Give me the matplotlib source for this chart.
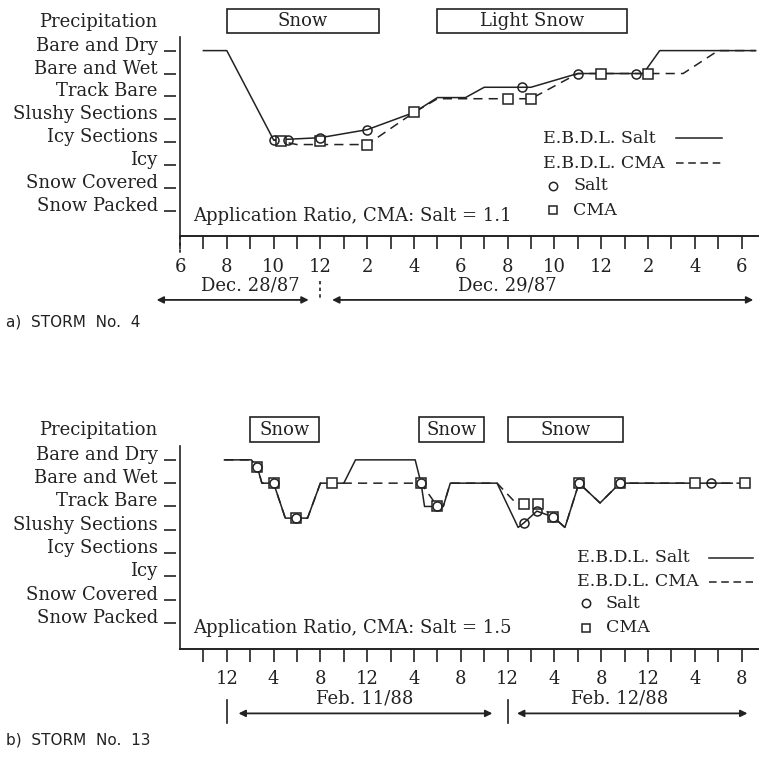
import matplotlib.pyplot as plt
from matplotlib.patches import Rectangle

plt.rcParams['font.family'] = ['DejaVu Serif']

ink = '#222222'

# road condition levels, bottom to top
levels = ["Snow Packed", "Snow Covered", "Icy", "Icy Sections",
          "Slushy Sections", "Track Bare", "Bare and Wet", "Bare and Dry"]

# ---- Storm No. 4 (hours from Dec. 28/87 00:00) ----
salt4_t = [19, 20, 22, 24, 26, 28, 29, 30.2, 31, 33, 35, 37.8, 38.5, 42.6]
salt4_v = [8, 8, 4.1, 4.2, 4.55, 5.3, 5.95, 5.95, 6.4, 6.4, 7, 7, 8, 8]
cma4_t = [22, 23, 26, 28, 29, 33, 35, 39.5, 41, 42.6]
cma4_v = [4.1, 3.9, 3.9, 5.3, 5.9, 5.9, 7, 7, 8, 8]
circ4_t = [22, 22.6, 24, 26, 32.6, 35, 37.5]
circ4_v = [4.1, 4.1, 4.2, 4.55, 6.4, 7, 7]
sq4_t = [22.3, 24, 26, 28, 32, 33, 36, 38]
sq4_v = [4.05, 4.05, 3.9, 5.3, 5.9, 5.9, 7, 7]
precip4 = [("Snow", 20.0, 26.5), ("Light Snow", 29.0, 37.1)]

# ---- Storm No. 13 (hours from Feb. 11/88 00:00) ----
salt13_t = [-0.2, 2.1, 2.6, 3.0, 4.0, 5.0, 6.9, 8.0, 10, 11, 16.1, 16.6, 16.9,
            18.5, 19.1, 23.1, 24.9, 25.4, 26.5, 27.9, 28.9, 30.1, 31.9, 33.6, 43.2]
salt13_v = [8, 8, 7.7, 7, 7, 5.5, 5.5, 7, 7, 8, 8, 7, 6,
            6, 7, 7, 5.1, 5.3, 5.8, 5.55, 5.1, 7, 6.15, 7, 7]
cma13_t = [-0.2, 2.1, 2.6, 3.0, 4.0, 5.0, 6.9, 8.0, 16.6, 18.0, 18.5, 19.1, 23.1,
           24.7, 26.6, 27.9, 28.9, 30.1, 31.9, 33.6, 44.6]
cma13_v = [8, 8, 7.7, 7, 7, 5.5, 5.5, 7, 7, 6, 6, 7, 7,
           6.15, 6.1, 5.55, 5.1, 7, 6.15, 7, 7]
circ13_t = [2.6, 4.0, 5.9, 16.6, 18.0, 25.4, 26.5, 27.9, 30.1, 33.6, 41.4]
circ13_v = [7.7, 7, 5.5, 7, 6, 5.3, 5.8, 5.55, 7, 7, 7]
sq13_t = [2.6, 4.0, 5.9, 9.0, 16.6, 18.0, 25.4, 26.6, 27.9, 30.1, 33.6, 40.0, 44.3]
sq13_v = [7.7, 7, 5.5, 7, 7, 6, 6.1, 6.1, 5.55, 7, 7, 7, 7]
precip13 = [("Snow", 2.0, 7.9), ("Snow", 16.4, 22.0), ("Snow", 24.0, 33.9)]

fig = plt.figure(figsize=(7.6, 7.7), dpi=100)
ax1 = fig.add_axes([180 / 760, 1 - 236.2 / 770, 578 / 760, 236 / 770])
ax2 = fig.add_axes([180 / 760, 1 - 648.6 / 770, 578 / 760, 240 / 770])

fs = 13
lfs = 12.5


def panel(ax, salt_t, salt_v, cma_t, cma_v, circ_t, circ_v, sq_t, sq_v, precip, ratio, leg_x, leg_y):
    ax.plot(cma_t, cma_v, color=ink, lw=1.1, ls=(0, (6, 4)))
    ax.plot(salt_t, salt_v, color=ink, lw=1.1)
    ax.plot(sq_t, sq_v, ls='none', marker='s', ms=7, mfc='white', mec=ink, mew=1.1)
    ax.plot(circ_t, circ_v, ls='none', marker='o', ms=6.5, mfc='none', mec=ink, mew=1.1)

    for name, t0, t1 in precip:
        ax.add_patch(Rectangle((t0, 8.78), t1 - t0, 1.05, fill=False, ec=ink, lw=1.2, clip_on=False))
        ax.text((t0 + t1) / 2, 9.3, name, ha='center', va='center', fontsize=fs, color=ink)

    ax.set_ylim(-0.1, 10.2)
    for s in ['top', 'right']:
        ax.spines[s].set_visible(False)
    ax.spines['left'].set_bounds(-0.1, 8.6)
    ax.spines['left'].set_color(ink)
    ax.spines['bottom'].set_color(ink)
    ax.spines['left'].set_linewidth(1.2)
    ax.spines['bottom'].set_linewidth(1.4)

    # y labels with detached tick dashes
    yt = ax.get_yaxis_transform()
    lv = list(range(1, len(levels) + 1))
    ax.set_yticks(lv)
    ax.set_yticklabels(levels, fontsize=fs, color=ink)
    ax.tick_params(axis='y', length=0, pad=16)
    for lab in ax.get_yticklabels():
        lab.set_va('baseline')
    ax.plot([-0.018] * len(lv), lv, ls='none', marker='_', ms=9, mew=1.2, color=ink,
            transform=yt, clip_on=False)
    ax.text(-0.04, 9.05, "Precipitation", transform=yt, ha='right', va='baseline',
            fontsize=fs, color=ink)

    ax.tick_params(axis='x', which='both', direction='out', length=9.5, width=1.2,
                   color=ink, pad=6, labelsize=fs, labelcolor=ink)

    ax.text(0.022, 0.085, "Application Ratio, CMA: Salt = " + ratio, transform=ax.transAxes,
            fontsize=fs, color=ink, va='center')

    # legend drawn by hand: text first, sample after
    ax.text(leg_x[0], leg_y[0], "E.B.D.L. Salt", transform=ax.transAxes, fontsize=lfs, color=ink, va='center')
    ax.text(leg_x[0], leg_y[1], "E.B.D.L. CMA", transform=ax.transAxes, fontsize=lfs, color=ink, va='center')
    ax.plot(leg_x[2:4], [leg_y[0]] * 2, transform=ax.transAxes, color=ink, lw=1.1)
    ax.plot(leg_x[2:4], [leg_y[1]] * 2, transform=ax.transAxes, color=ink, lw=1.1, ls=(0, (5, 3)))
    ax.plot([leg_x[1]], [leg_y[2]], transform=ax.transAxes, marker='o', ms=6, mfc='none', mec=ink, mew=1.1)
    ax.plot([leg_x[1]], [leg_y[3]], transform=ax.transAxes, marker='s', ms=6, mfc='none', mec=ink, mew=1.1)
    ax.text(leg_x[1] + 0.035, leg_y[2], "Salt", transform=ax.transAxes, fontsize=lfs, color=ink, va='center')
    ax.text(leg_x[1] + 0.035, leg_y[3], "CMA", transform=ax.transAxes, fontsize=lfs, color=ink, va='center')


panel(ax1, salt4_t, salt4_v, cma4_t, cma4_v, circ4_t, circ4_v, sq4_t, sq4_v, precip4, "1.1",
      [0.628, 0.645, 0.858, 0.938], [0.416, 0.31, 0.213, 0.111])
panel(ax2, salt13_t, salt13_v, cma13_t, cma13_v, circ13_t, circ13_v, sq13_t, sq13_v, precip13, "1.5",
      [0.687, 0.702, 0.915, 0.991], [0.378, 0.278, 0.19, 0.086])


def clock(h):
    return str(int(h) % 12 or 12)


# top x axis: 6 pm Dec 28 to 6 pm Dec 29, ticks hourly
ax1.set_xlim(18, 42.7)
ax1.set_xticks(range(18, 43, 2))
ax1.set_xticklabels([clock(h) for h in range(18, 43, 2)])
ax1.set_xticks(range(19, 43, 2), minor=True)
xt1 = ax1.get_xaxis_transform()
ax1.plot([18, 18], [0, -0.085], transform=xt1, color=ink, lw=1.2, ls=(0, (2, 2)), clip_on=False)
ax1.plot([24, 24], [-0.19, -0.26], transform=xt1, color=ink, lw=1.2, ls=(0, (2, 2)), clip_on=False)
ax1.text(21.0, -0.21, "Dec. 28/87", transform=xt1, ha='center', va='center', fontsize=fs, color=ink)
ax1.text(32.0, -0.21, "Dec. 29/87", transform=xt1, ha='center', va='center', fontsize=fs, color=ink)
for a, b in [(17.0, 23.5), (24.5, 42.5)]:
    ax1.annotate('', xy=(b, -0.27), xytext=(a, -0.27), xycoords=xt1, textcoords=xt1,
                 annotation_clip=False,
                 arrowprops=dict(arrowstyle='<|-|>', color=ink, lw=1.3, shrinkA=0, shrinkB=0,
                                 mutation_scale=10))
fig.text(0.008, 1 - 322 / 770, "a)  STORM  No.  4", fontsize=11, color=ink, va='center',
         family='DejaVu Sans')

# bottom x axis: 8 pm Feb 10 to 9 pm Feb 12, ticks every 2 hours
ax2.set_xlim(-4, 45.4)
ax2.set_xticks(range(0, 45, 4))
ax2.set_xticklabels([clock(h) for h in range(0, 45, 4)])
ax2.set_xticks([h for h in range(-4, 45, 2) if h % 4 != 0], minor=True)
xt2 = ax2.get_xaxis_transform()
for h in [0, 24]:
    ax2.plot([h, h], [-0.215, -0.31], transform=xt2, color=ink, lw=1.2, clip_on=False)
ax2.text(11.8, -0.207, "Feb. 11/88", transform=xt2, ha='center', va='center', fontsize=fs, color=ink)
ax2.text(33.6, -0.207, "Feb. 12/88", transform=xt2, ha='center', va='center', fontsize=fs, color=ink)
for a, b in [(1.0, 22.7), (24.8, 44.5)]:
    ax2.annotate('', xy=(b, -0.27), xytext=(a, -0.27), xycoords=xt2, textcoords=xt2,
                 annotation_clip=False,
                 arrowprops=dict(arrowstyle='<|-|>', color=ink, lw=1.3, shrinkA=0, shrinkB=0,
                                 mutation_scale=10))
fig.text(0.008, 1 - 740 / 770, "b)  STORM  No.  13", fontsize=11, color=ink, va='center',
         family='DejaVu Sans')

fig.savefig('out.png', dpi=100, facecolor='white')
